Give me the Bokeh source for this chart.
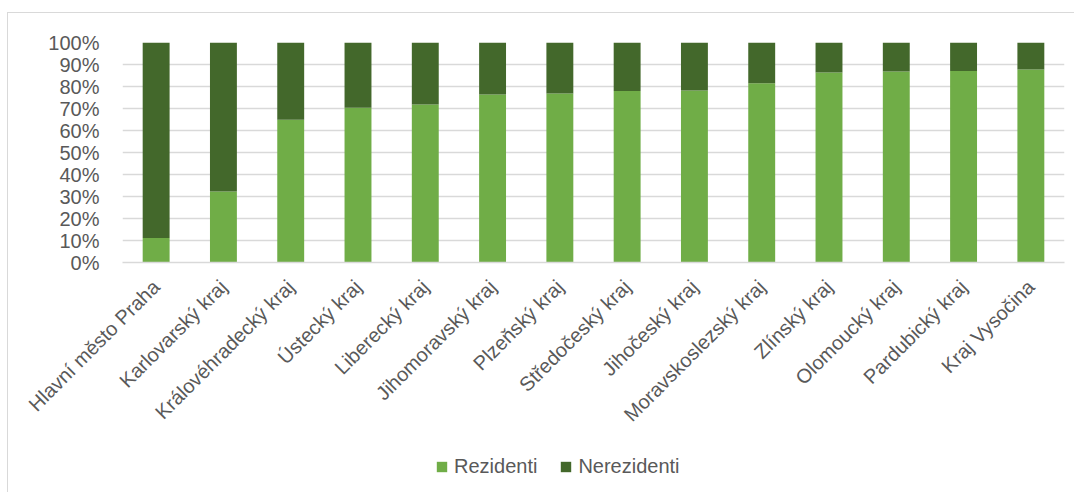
import math

from bokeh.embed import file_html
from bokeh.layouts import column
from bokeh.models import FactorRange, Legend, LegendItem, NumeralTickFormatter, SingleIntervalTicker, Range1d
from bokeh.plotting import figure
from bokeh.resources import INLINE

# Regions of Czechia, share of guests (residents vs. non-residents), in %
regions = [
    "Hlavní město Praha", "Karlovarský kraj", "Královéhradecký kraj", "Ústecký kraj",
    "Liberecký kraj", "Jihomoravský kraj", "Plzeňský kraj", "Středočeský kraj",
    "Jihočeský kraj", "Moravskoslezský kraj", "Zlínský kraj", "Olomoucký kraj",
    "Pardubický kraj", "Kraj Vysočina",
]
rezidenti = [11.1, 32.3, 64.9, 70.3, 71.8, 76.4, 76.8, 78.0, 78.2, 81.5, 86.4, 86.8, 87.1, 87.7]
nerezidenti = [88.9, 67.7, 35.1, 29.7, 28.2, 23.6, 23.2, 22.0, 21.8, 18.5, 13.6, 13.2, 12.9, 12.3]

series = ["Rezidenti", "Nerezidenti"]
colors = ["#70ad47", "#43682b"]

TEXT = "#595959"
GRID = "#d9d9d9"
FONT = "Liberation Sans"

data = {
    "region": regions,
    "Rezidenti": [v / 100 for v in rezidenti],
    "Nerezidenti": [v / 100 for v in nerezidenti],
}

p = figure(
    x_range=FactorRange(*regions, range_padding=0),
    y_range=Range1d(0, 1),
    frame_width=942,
    frame_height=220,
    min_border_left=114,
    min_border_right=10,
    min_border_top=29,
    min_border_bottom=190,
    output_backend="svg",
    toolbar_location=None,
)

renderers = p.vbar_stack(series, x="region", width=0.4, color=colors, line_color=None, source=data)

p.outline_line_color = None
p.xgrid.grid_line_color = None
p.ygrid.grid_line_color = GRID
p.ygrid.grid_line_width = 1.5

p.yaxis.ticker = SingleIntervalTicker(interval=0.1)
p.yaxis.formatter = NumeralTickFormatter(format="0%")
p.yaxis.axis_line_color = None
p.yaxis.major_tick_line_color = None
p.yaxis.minor_tick_line_color = None
p.yaxis.major_label_standoff = 17

p.xaxis.axis_line_color = GRID
p.xaxis.axis_line_width = 1.5
p.xaxis.major_tick_line_color = None
p.xaxis.major_label_orientation = math.pi / 4
p.xaxis.major_label_standoff = 15

for ax in (p.xaxis, p.yaxis):
    ax.major_label_text_font = FONT
    ax.major_label_text_font_size = "20px"
    ax.major_label_text_color = TEXT

# legend strip under the chart; its keys come from hidden copies of the stacked series
key_fig = figure(
    x_range=FactorRange(*regions, range_padding=0),
    y_range=Range1d(0, 1),
    width=1066,
    height=40,
    min_border=0,
    x_axis_type=None,
    y_axis_type=None,
    output_backend="svg",
    toolbar_location=None,
)
key_fig.outline_line_color = None
key_fig.grid.visible = False
key_renderers = key_fig.vbar_stack(series, x="region", width=0.4, color=colors, line_color=None, source=data)
for r in key_renderers:
    r.visible = False

legend = Legend(
    items=[LegendItem(label=s, renderers=[r]) for s, r in zip(series, key_renderers)],
    orientation="horizontal",
    location=(313, 14),
    label_text_font=FONT,
    label_text_font_size="20px",
    label_text_color=TEXT,
    glyph_width=13,
    glyph_height=13,
    label_standoff=6,
    spacing=22,
    padding=0,
    margin=0,
    border_line_color=None,
    background_fill_alpha=0,
    inactive_fill_alpha=0,
)
key_fig.add_layout(legend, "center")

# chart area with a thin frame on its left and top edges
page = column(
    p,
    key_fig,
    spacing=0,
    margin=(12, 0, 0, 7),
    styles={"border-left": "1px solid #d9d9d9", "border-top": "1px solid #d9d9d9"},
)

open("out.html", "w").write(file_html(page, INLINE))
